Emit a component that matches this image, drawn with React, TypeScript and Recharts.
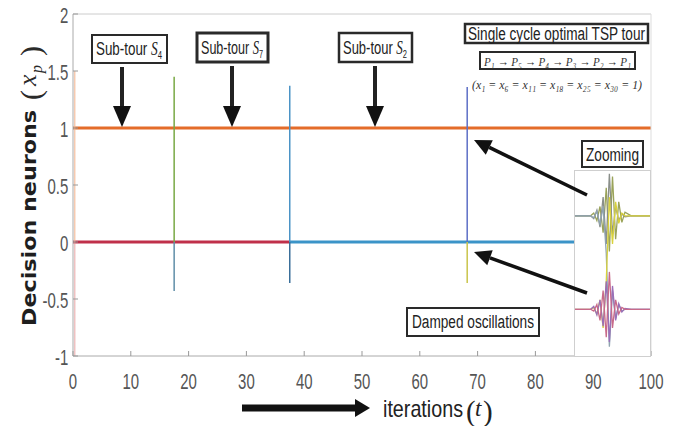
import React from "react";
import { LineChart, Line, XAxis, YAxis } from "recharts";

// axis ticks
const xTicks = [0, 10, 20, 30, 40, 50, 60, 70, 80, 90, 100];
const yTicks = [-1, -0.5, 0, 0.5, 1, 1.5, 2];

// neurons that settle at 1 (the selected tour)
const oneT = [0, 100];
const oneX = [1, 1];
// neurons that settle at 0, before and after the 2nd restart
const zeroRedT = [0, 37.5];
const zeroBlueT = [37.5, 86.9];
const zeroX = [0, 0];

// restart transients (one spike per sub-tour break)
const spikeT = [0.3, 17.5, 37.5, 68.2];
const spikeHigh = [1.5, 1.45, 1.37, 1.36];
const spikeLow = [-1, -0.43, -0.36, -0.36];
const spikeUpColor = ["#f2b38f", "#79a944", "#4b93c6", "#5d6fc6"];
const spikeLowColor = ["#e49a9a", "#5f8ea8", "#3a6f9a", "#c9c44a"];

// zoomed view of the last transient
const insetT = [0, 11, 12, 13, 14, 15, 16, 17, 18, 19, 20, 21, 22, 24, 40];
const insetOlive = [1, 1, 1.03, 0.95, 1.1, 0.82, 1.3, 0.62, 1.42, 0.75, 1.15, 0.93, 1.04, 1, 1];
const insetGray = [1, 1, 0.97, 1.06, 0.88, 1.2, 0.7, 1.45, 0.8, 1.1, 0.95, 1.02, 0.99, 1, 1];
const insetPurple = [0, 0, 0.03, -0.06, 0.1, -0.18, 0.3, -0.35, 0.25, -0.12, 0.06, -0.03, 0.01, 0, 0];
const insetPink = [0, 0, -0.02, 0.05, -0.12, 0.2, -0.3, 0.4, -0.2, 0.1, -0.05, 0.02, 0, 0, 0];
const insetYellow = [0, 0, 0.02, -0.05, 0.1, -0.2, 0.3, 1.2, 0.7, 1.15, 0.92, 1.03, 1, 1, 1];
const insetSlate = [1, 1, 0.98, 1.05, 0.9, 1.1, 0.6, -0.4, 0.2, -0.1, 0.05, -0.02, 0, 0, 0];

const rows = (ts: number[], xs: number[]) => ts.map((t, i) => ({ t, x: xs[i] }));

const NARROW = "'Liberation Sans', Arial, sans-serif";
const SERIF = "'Liberation Serif', 'DejaVu Serif', serif";

const BottomTick = (props: any) => {
  const { x, y, payload } = props;
  return (
    <g transform={`translate(${x},${y})`}>
      <line x1={0} y1={0} x2={0} y2={-5} stroke="#999" />
      <text transform="scale(0.68,1)" y={33} textAnchor="middle" fontFamily={NARROW} fontSize={22} fill="#555">
        {payload.value}
      </text>
    </g>
  );
};

const LeftTick = (props: any) => {
  const { x, y, payload } = props;
  return (
    <g transform={`translate(${x},${y})`}>
      <line x1={0} y1={0} x2={5} y2={0} stroke="#999" />
      <text transform="scale(0.68,1)" x={-7} y={9} textAnchor="end" fontFamily={NARROW} fontSize={22} fill="#555">
        {payload.value}
      </text>
    </g>
  );
};

const TopTick = (props: any) => {
  const { x, y } = props;
  return <line x1={x} y1={y} x2={x} y2={y + 5} stroke="#aaa" />;
};

const RightTick = (props: any) => {
  const { x, y } = props;
  return <line x1={x} y1={y} x2={x - 5} y2={y} stroke="#aaa" />;
};

const Box = ({ x, y, w, h, sw = 2 }: any) => (
  <rect x={x} y={y} width={w} height={h} fill="#fff" stroke="#2a2a2a" strokeWidth={sw} />
);

const Label = ({ x, y, len, size = 19, children }: any) => (
  <text x={x} y={y} fontFamily={NARROW} fontSize={size} fill="#222" textLength={len} lengthAdjust="spacingAndGlyphs">
    {children}
  </text>
);

const DownArrow = ({ x, y1, y2 }: any) => (
  <g>
    <rect x={x - 2} y={y1} width={4} height={y2 - y1 - 19} fill="#222" />
    <polygon points={`${x - 9},${y2 - 21} ${x + 9},${y2 - 21} ${x},${y2}`} fill="#111" />
  </g>
);

const Arrow = ({ x1, y1, x2, y2 }: any) => {
  const dx = x2 - x1;
  const dy = y2 - y1;
  const len = Math.hypot(dx, dy);
  const ux = dx / len;
  const uy = dy / len;
  const bx = x2 - ux * 17;
  const by = y2 - uy * 17;
  const px = -uy * 8;
  const py = ux * 8;
  return (
    <g>
      <line x1={x1} y1={y1} x2={bx} y2={by} stroke="#111" strokeWidth={3.5} />
      <polygon points={`${x2},${y2} ${bx + px},${by + py} ${bx - px},${by - py}`} fill="#111" />
    </g>
  );
};

const SubTour = ({ x, y, w, h, sw, idx, arrowX }: any) => (
  <g>
    <Box x={x} y={y} w={w} h={h} sw={sw} />
    <text x={x + 4} y={y + h - 8} fontFamily={NARROW} fontSize={19} fill="#222" textLength={w - 9} lengthAdjust="spacingAndGlyphs">
      Sub-tour <tspan fontFamily={SERIF} fontStyle="italic">S</tspan>
      <tspan fontSize={11} dy={4}>{idx}</tspan>
    </text>
    <DownArrow x={arrowX} y1={y + h + 4} y2={127} />
  </g>
);

export default function App() {
  const line = (key: string, data: any[], color: string, width: number, opacity = 1) => (
    <Line
      key={key}
      data={data}
      dataKey="x"
      type="linear"
      stroke={color}
      strokeWidth={width}
      strokeOpacity={opacity}
      dot={false}
      activeDot={false}
      isAnimationActive={false}
    />
  );

  const spikes: any[] = [];
  spikeT.forEach((t, i) => {
    spikes.push(line(`su${i}`, rows([t, t], [0, spikeHigh[i]]), spikeUpColor[i], 1.5, i === 0 ? 0.7 : 1));
    spikes.push(line(`sl${i}`, rows([t, t], [spikeLow[i], 0]), spikeLowColor[i], 1.5, i === 0 ? 0.6 : 1));
  });

  const insetLine = (key: string, xs: number[], color: string) => (
    <Line
      key={key}
      data={rows(insetT, xs)}
      dataKey="x"
      type="linear"
      stroke={color}
      strokeWidth={1.3}
      dot={false}
      activeDot={false}
      isAnimationActive={false}
    />
  );

  return (
    <div style={{ position: "absolute", left: 0, top: 0, width: 677, height: 426, background: "#fff", fontFamily: NARROW }}>
      <LineChart width={677} height={426} margin={{ top: 13, right: 25, bottom: 40, left: 0 }}>
        <XAxis
          dataKey="t"
          type="number"
          domain={[0, 100]}
          ticks={xTicks}
          height={30}
          stroke="#aaa"
          tickLine={false}
          tickSize={0}
          tickMargin={0}
          tick={<BottomTick />}
        />
        <XAxis
          xAxisId="top"
          orientation="top"
          dataKey="t"
          type="number"
          domain={[0, 100]}
          ticks={xTicks}
          height={1}
          stroke="#ccc"
          tickLine={false}
          tickSize={0}
          tickMargin={0}
          tick={<TopTick />}
        />
        <YAxis
          type="number"
          domain={[-1, 2]}
          ticks={yTicks}
          width={73}
          stroke="#aaa"
          tickLine={false}
          tickSize={0}
          tickMargin={0}
          tick={<LeftTick />}
        />
        <YAxis
          yAxisId="r"
          orientation="right"
          type="number"
          domain={[-1, 2]}
          ticks={yTicks}
          width={1}
          stroke="#ddd"
          tickLine={false}
          tickSize={0}
          tickMargin={0}
          tick={<RightTick />}
        />
        {line("one", rows(oneT, oneX), "#e46c2a", 3)}
        {line("zeroRed", rows(zeroRedT, zeroX), "#c0304a", 3)}
        {line("zeroBlue", rows(zeroBlueT, zeroX), "#3b94c8", 3)}
        {spikes}
      </LineChart>

      <div
        style={{
          position: "absolute",
          left: 574,
          top: 170,
          width: 77,
          height: 187,
          border: "1px solid #cfcfcf",
          boxSizing: "border-box",
          background: "#fff",
        }}
      >
        <LineChart width={75} height={185} margin={{ top: 0, right: 0, bottom: 0, left: 0 }}>
          <XAxis dataKey="t" type="number" domain={[6, 30]} allowDataOverflow hide />
          <YAxis type="number" domain={[-0.5, 1.48]} allowDataOverflow hide />
          {insetLine("olive", insetOlive, "#9aa35a")}
          {insetLine("gray", insetGray, "#8a8f8a")}
          {insetLine("slate", insetSlate, "#8fa3b0")}
          {insetLine("yellow", insetYellow, "#d9d23c")}
          {insetLine("purple", insetPurple, "#9a6fb8")}
          {insetLine("pink", insetPink, "#c86a8a")}
        </LineChart>
      </div>

      <svg width={677} height={426} style={{ position: "absolute", left: 0, top: 0, pointerEvents: "none" }}>
        {/* y axis title */}
        <g transform="translate(36,326) rotate(-90)">
          <text x={0} y={0} fontFamily="'DejaVu Sans', sans-serif" fontWeight="bold" fontSize={20} fill="#1e1e1e" textLength={216} lengthAdjust="spacingAndGlyphs">
            Decision neurons
          </text>
          <text x={226} y={5} fontFamily={SERIF} fontSize={30} fill="#2a2a2a">(</text>
          <text x={240} y={0} fontFamily={SERIF} fontStyle="italic" fontSize={26} fill="#2a2a2a">x</text>
          <text x={253} y={6} fontFamily={SERIF} fontStyle="italic" fontSize={16} fill="#2a2a2a">p</text>
          <text x={270} y={5} fontFamily={SERIF} fontSize={30} fill="#2a2a2a">)</text>
        </g>

        {/* x axis title */}
        <rect x={242} y={404.5} width={116} height={7} fill="#111" />
        <polygon points="355,399 370,408 355,417" fill="#111" />
        <Label x={383} y={417} len={80} size={24}>iterations</Label>
        <text x={466} y={421} fontFamily={SERIF} fontSize={29} fill="#222">(</text>
        <text x={475} y={416} fontFamily={SERIF} fontStyle="italic" fontSize={23} fill="#222">t</text>
        <text x={483} y={421} fontFamily={SERIF} fontSize={29} fill="#222">)</text>

        {/* sub-tours */}
        <SubTour x={92} y={35} w={75} h={28} sw={2} idx={4} arrowX={122} />
        <SubTour x={197} y={33} w={71} h={29} sw={3} idx={7} arrowX={232} />
        <SubTour x={339} y={33} w={73} h={29} sw={2.5} idx={2} arrowX={375} />

        {/* optimal tour */}
        <Box x={465} y={24} w={183} h={19} sw={2.5} />
        <Label x={468} y={40} len={177} size={18}>Single cycle optimal TSP tour</Label>
        <Box x={480} y={52} w={155} h={17} sw={2} />
        <text x={484} y={66} fontFamily={SERIF} fontStyle="italic" fontSize={13} fill="#333" textLength={147} lengthAdjust="spacingAndGlyphs">
          P₁ → P₅ → P₄ → P₃ → P₂ → P₁
        </text>
        <text x={472} y={89} fontFamily={SERIF} fontStyle="italic" fontSize={13} fill="#333" textLength={170} lengthAdjust="spacingAndGlyphs">
          (x₁ = x₆ = x₁₁ = x₁₈ = x₂₅ = x₃₀ = 1)
        </text>

        {/* zoom callouts */}
        <Box x={582} y={141} w={61} h={26} sw={2} />
        <Label x={586} y={161} len={53} size={18}>Zooming</Label>
        <Box x={407} y={308} w={132} h={28} sw={2} />
        <Label x={412} y={328} len={122} size={18}>Damped oscillations</Label>
        <Arrow x1={587} y1={195} x2={474} y2={140} />
        <Arrow x1={587} y1={293} x2={474} y2={252} />
      </svg>
    </div>
  );
}
